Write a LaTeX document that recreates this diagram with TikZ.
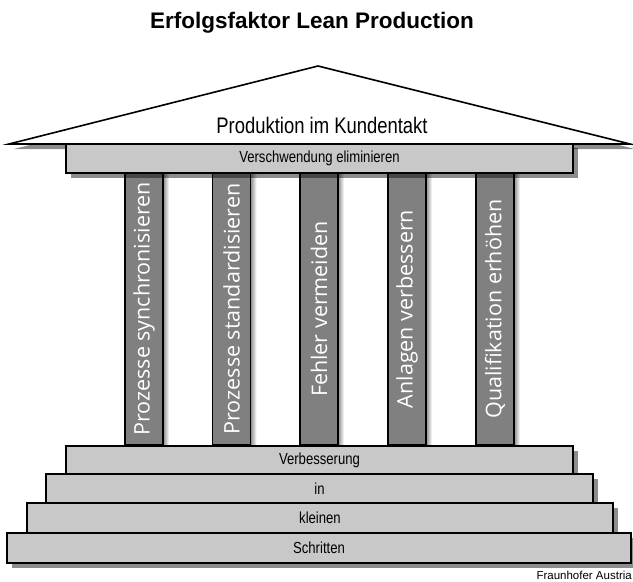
\documentclass[tikz,border=0pt]{standalone}
\usepackage{fontspec}
\setmainfont{Liberation Sans}
\newfontfamily\narrowfont[FakeStretch=0.82]{Liberation Sans}
\newfontfamily\columnfont{Open Sans}
\usetikzlibrary{shadows}
\definecolor{boxgray}{HTML}{C8C8C8}
\definecolor{columngray}{HTML}{808080}
\tikzset{
  shadowed/.style={drop shadow={shadow xshift=5pt, shadow yshift=-5pt, fill=black, opacity=0.45}},
  stepbox/.style={draw=black, line width=1.6pt, fill=boxgray, shadowed, inner sep=0pt,
    font=\narrowfont\fontsize{16}{18}\selectfont},
  column/.style={draw=black, line width=1.4pt, fill=columngray, rotate=90, inner sep=0pt,
    minimum width=272pt, minimum height=38pt, text=white,
    font=\columnfont\fontsize{21.5}{24}\selectfont},
}
\begin{document}
\begin{tikzpicture}[x=1pt, y=-1pt]
      \useasboundingbox (0,0) rectangle (633,582);
      \node[font=\bfseries\fontsize{22.5}{26}\selectfont, anchor=base] (title) at (312,28) {Erfolgsfaktor Lean Production};
      % columns
      \foreach \name/\x/\txt in {c1/144/Prozesse synchronisieren, c2/231.5/Prozesse standardisieren,
          c3/319/Fehler vermeiden, c4/407/Anlagen verbessern, c5/495/Qualifikation erhöhen} {
        \shade[left color=black!45, right color=white] (\x+19,173) rectangle (\x+25,445);
        \node[column] (\name) at (\x,309) {\txt};
      }
      % roof
      \coordinate (apex) at (318,66);
      \coordinate (eaveL) at (9,144);
      \coordinate (eaveR) at (630,144);
      \fill[black, opacity=0.45] ([xshift=5pt,yshift=-5pt]apex) -- ([xshift=5pt,yshift=-5pt]eaveL)
        -- ([xshift=5pt,yshift=-5pt]eaveR) -- cycle;
      \node[stepbox, minimum width=507pt, minimum height=30pt] (beam) at (319.5,158) {Verschwendung eliminieren};
      \draw[line width=1.6pt, fill=white] (apex) -- (eaveL) -- (eaveR) -- cycle;
      \node[font=\narrowfont\fontsize{22.5}{26}\selectfont, anchor=base] (roof) at (322,133) {Produktion im Kundentakt};
      % steps
      \node[stepbox, minimum width=507pt, minimum height=28pt] (s1) at (319.5,460) {Verbesserung};
      \node[stepbox, minimum width=547pt, minimum height=29pt] (s2) at (319.5,488.5) {in};
      \node[stepbox, minimum width=586pt, minimum height=30pt] (s3) at (320,518) {kleinen};
      \node[stepbox, minimum width=624pt, minimum height=30pt] (s4) at (319,548) {Schritten};
      \node[font=\fontsize{11.5}{13}\selectfont, anchor=base east, inner sep=1pt] (source) at (633,579) {Fraunhofer Austria};
    \end{tikzpicture}
\end{document}
